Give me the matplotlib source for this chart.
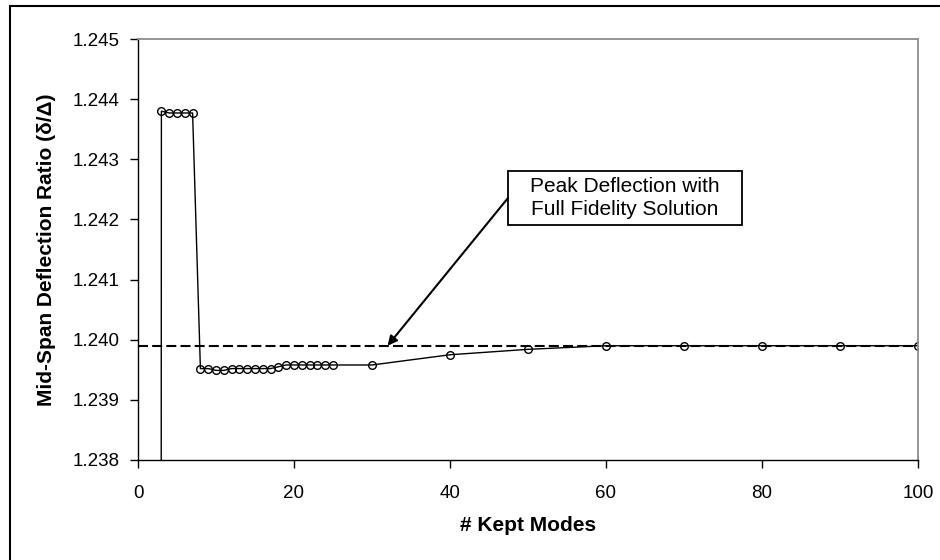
import matplotlib
matplotlib.use("Agg")
import matplotlib.pyplot as plt
from matplotlib.patches import Rectangle

plt.rcParams['font.family'] = ['Liberation Sans', 'DejaVu Sans']

# Data
modes = [2, 3, 4, 5, 6, 7, 8, 9, 10, 11, 12, 13, 14, 15, 16, 17, 18, 19, 20,
         21, 22, 23, 24, 25, 30, 40, 50, 60, 70, 80, 90, 100]
ratio = [1.0, 1.24380, 1.24377, 1.24377, 1.24377, 1.24377,
         1.23952, 1.23952, 1.23949, 1.23949, 1.23952, 1.23952, 1.23952,
         1.23952, 1.23952, 1.23952, 1.23955, 1.23958, 1.23958, 1.23958,
         1.23958, 1.23958, 1.23958, 1.23958, 1.23958, 1.23975, 1.23984,
         1.23990, 1.23990, 1.23990, 1.23990, 1.23990]
full_fidelity = 1.23990
note_text = "Peak Deflection with\nFull Fidelity Solution"
arrow_x = 32

W, H = 940, 560
fig = plt.figure(figsize=(W / 100, H / 100), dpi=100)
ax = fig.add_axes([138 / W, 1 - 460 / H, (918 - 138) / W, (460 - 39) / H])

ax.plot(modes, ratio, color='black', lw=1.0, marker='o', ms=5.5,
        mfc='none', mec='black', mew=1.0)
ax.axhline(full_fidelity, color='black', lw=1.5, ls=(0, (4.8, 2)))

ax.set_xlim(0, 100)
ax.set_ylim(1.238, 1.245)
ax.set_xticks(range(0, 101, 20))
ax.set_yticks([1.238 + 0.001 * i for i in range(8)])
ax.set_yticklabels(['%.3f' % (1.238 + 0.001 * i) for i in range(8)])

ax.tick_params(axis='both', direction='out', length=6, width=1, labelsize=13.5)
ax.tick_params(axis='x', pad=12)
ax.tick_params(axis='y', pad=7)

for s in ['top', 'right']:
    ax.spines[s].set_color('#8c8c8c')
    ax.spines[s].set_linewidth(1.3)
for s in ['left', 'bottom']:
    ax.spines[s].set_color('black')
    ax.spines[s].set_linewidth(1.0)

ax.set_xlabel('# Kept Modes', fontsize=15, fontweight='bold', labelpad=10)
ax.set_ylabel('Mid-Span Deflection Ratio (\u03b4/\u0394)', fontsize=15,
              fontweight='bold', labelpad=12)

# annotation box with arrow
bx0, bx1, by0, by1 = 508 / W, 742 / W, 1 - 225 / H, 1 - 171 / H
fig.patches.append(Rectangle((bx0, by0), bx1 - bx0, by1 - by0,
                             transform=fig.transFigure, fill=False,
                             ec='black', lw=1.3))
fig.text((bx0 + bx1) / 2, (by0 + by1) / 2, note_text, ha='center',
         va='center', fontsize=15, linespacing=1.25)
ax.annotate('', xy=(arrow_x, full_fidelity), xycoords='data',
            xytext=(bx0, (by0 + by1) / 2), textcoords='figure fraction',
            arrowprops=dict(arrowstyle='-|>', color='black', lw=1.5,
                            mutation_scale=14, shrinkA=0, shrinkB=0))

# outer chart border (clipped at right and bottom)
fig.patches.append(Rectangle((10 / W, -0.05), 1.0, 1 - 6 / H + 0.05,
                             transform=fig.transFigure, fill=False,
                             ec='black', lw=1.5))

fig.savefig('out.png', dpi=100)
